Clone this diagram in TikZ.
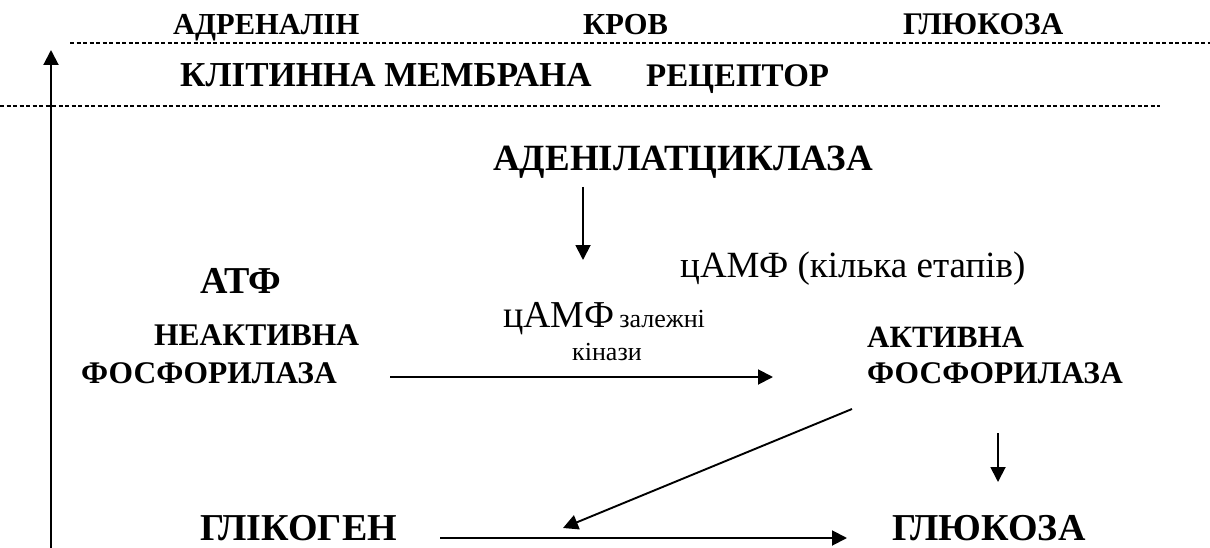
\documentclass[tikz,border=0pt]{standalone}
\usepackage{fontspec}
\setmainfont{Liberation Serif}
\usetikzlibrary{arrows.meta}
\begin{document}
\begin{tikzpicture}[x=1pt,y=-1pt,
  lbl/.style={inner sep=0pt, anchor=base west},
  bA/.style={lbl, font=\fontsize{30.5}{32}\selectfont\bfseries},
  bM/.style={lbl, font=\fontsize{34}{36}\selectfont\bfseries},
  bB/.style={lbl, font=\fontsize{31.5}{34}\selectfont\bfseries},
  bC/.style={lbl, font=\fontsize{38}{40}\selectfont\bfseries},
  rg/.style={lbl, font=\fontsize{37}{40}\selectfont},
  dashline/.style={line width=1.1pt, dash pattern=on 4pt off 2.5pt},
  arr/.style={line width=1.9pt, -{Triangle[length=15pt,width=15pt]}}
]
\useasboundingbox (0,0) rectangle (1210,548);
% labels
\node[bA] (adr) at (173,35) {АДРЕНАЛІН};
\node[bA] (krov) at (583,35) {КРОВ};
\node[bA, font=\fontsize{31.5}{32}\selectfont\bfseries] (gl1) at (903,35) {ГЛЮКОЗА};
\node[bM, font=\fontsize{35}{36}\selectfont\bfseries] (mem) at (180,87) {КЛІТИННА МЕМБРАНА};
\node[bM, font=\fontsize{33}{36}\selectfont\bfseries] (rec) at (646,87) {РЕЦЕПТОР};
\node[bC, font=\fontsize{37}{40}\selectfont\bfseries] (aden) at (493,171) {АДЕНІЛАТЦИКЛАЗА};
\node[rg] (camp) at (680,277) {цАМФ (кілька етапів)};
\node[bC] (atf) at (200,293) {АТФ};
\node[bB] (neakt) at (154,345) {НЕАКТИВНА};
\node[bB] (fos1) at (81,383) {ФОСФОРИЛАЗА};
\node[lbl, font=\fontsize{38}{40}\selectfont] (camp2) at (503,327) {цАМФ\hspace{5pt}\fontsize{26}{28}\selectfont залежні};
\node[lbl, font=\fontsize{26}{28}\selectfont] (kin) at (572,360) {кінази};
\node[bB, font=\fontsize{31}{34}\selectfont\bfseries] (akt) at (867,347) {АКТИВНА};
\node[bB] (fos2) at (867,383) {ФОСФОРИЛАЗА};
\node[bC] (glik) at (200,540) {ГЛІКОГЕН};
\node[bC] (gl2) at (892,540) {ГЛЮКОЗА};
% dashed lines
\coordinate (d1a) at (70,43); \coordinate (d1b) at (1210,43);
\coordinate (d2a) at (0,106); \coordinate (d2b) at (1160,106);
\draw[dashline] (d1a) -- (d1b);
\draw[dashline] (d2a) -- (d2b);
% connectors
\coordinate (va) at (51,548); \coordinate (vb) at (51,50);
\draw[line width=2pt, -{Triangle[length=15pt,width=15pt]}] (va) -- (vb);
\coordinate (a1s) at (583,187); \coordinate (a1e) at (583,260);
\draw[arr] (a1s) -- (a1e);
\coordinate (h1s) at (390,377); \coordinate (h1e) at (773,377);
\draw[arr] (h1s) -- (h1e);
\coordinate (dgs) at (852,409); \coordinate (dge) at (563,528);
\draw[arr] (dgs) -- (dge);
\coordinate (r1s) at (998,433); \coordinate (r1e) at (998,482);
\draw[arr] (r1s) -- (r1e);
\coordinate (h2s) at (440,538); \coordinate (h2e) at (847,538);
\draw[arr] (h2s) -- (h2e);
\end{tikzpicture}
\end{document}
